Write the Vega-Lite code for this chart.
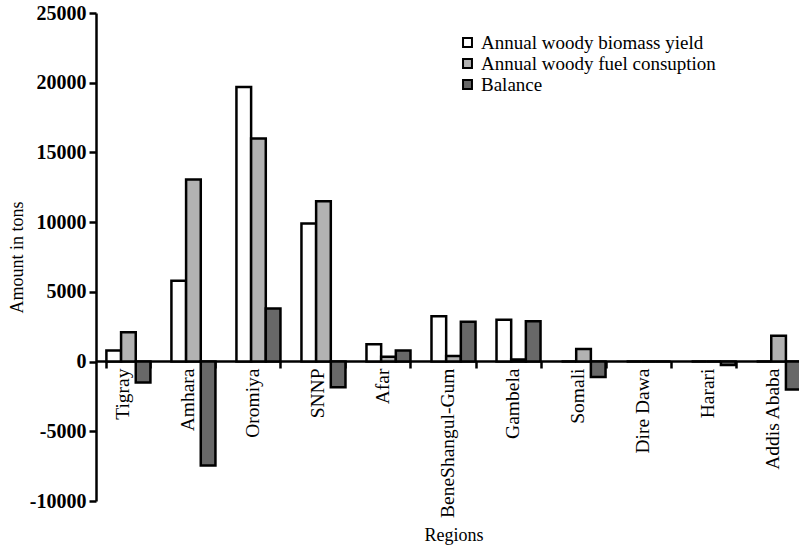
{
  "$schema": "https://vega.github.io/schema/vega-lite/v6.json",
  "autosize": {"type": "none"},
  "padding": {"left": 96, "top": 13, "right": 0, "bottom": 51},
  "width": 703,
  "height": 488,
  "background": "white",
  "config": {
    "font": "Liberation Serif",
    "view": {"stroke": null},
    "axis": {"grid": false, "labelColor": "black", "titleColor": "black", "domainColor": "black", "tickColor": "black"}
  },
  "data": {
    "values": [
      {"region": "Tigray", "series": "Annual woody biomass yield", "value": 800},
      {"region": "Tigray", "series": "Annual woody fuel consuption", "value": 2100},
      {"region": "Tigray", "series": "Balance", "value": -1500},
      {"region": "Amhara", "series": "Annual woody biomass yield", "value": 5800},
      {"region": "Amhara", "series": "Annual woody fuel consuption", "value": 13050},
      {"region": "Amhara", "series": "Balance", "value": -7450},
      {"region": "Oromiya", "series": "Annual woody biomass yield", "value": 19700},
      {"region": "Oromiya", "series": "Annual woody fuel consuption", "value": 16000},
      {"region": "Oromiya", "series": "Balance", "value": 3800},
      {"region": "SNNP", "series": "Annual woody biomass yield", "value": 9900},
      {"region": "SNNP", "series": "Annual woody fuel consuption", "value": 11500},
      {"region": "SNNP", "series": "Balance", "value": -1850},
      {"region": "Afar", "series": "Annual woody biomass yield", "value": 1250},
      {"region": "Afar", "series": "Annual woody fuel consuption", "value": 350},
      {"region": "Afar", "series": "Balance", "value": 800},
      {"region": "BeneShangul-Gum", "series": "Annual woody biomass yield", "value": 3250},
      {"region": "BeneShangul-Gum", "series": "Annual woody fuel consuption", "value": 400},
      {"region": "BeneShangul-Gum", "series": "Balance", "value": 2850},
      {"region": "Gambela", "series": "Annual woody biomass yield", "value": 3000},
      {"region": "Gambela", "series": "Annual woody fuel consuption", "value": 150},
      {"region": "Gambela", "series": "Balance", "value": 2900},
      {"region": "Somali", "series": "Annual woody biomass yield", "value": 0},
      {"region": "Somali", "series": "Annual woody fuel consuption", "value": 900},
      {"region": "Somali", "series": "Balance", "value": -1100},
      {"region": "Dire Dawa", "series": "Annual woody biomass yield", "value": 0},
      {"region": "Dire Dawa", "series": "Annual woody fuel consuption", "value": 0},
      {"region": "Dire Dawa", "series": "Balance", "value": 0},
      {"region": "Harari", "series": "Annual woody biomass yield", "value": 0},
      {"region": "Harari", "series": "Annual woody fuel consuption", "value": 0},
      {"region": "Harari", "series": "Balance", "value": -250},
      {"region": "Addis Ababa", "series": "Annual woody biomass yield", "value": 0},
      {"region": "Addis Ababa", "series": "Annual woody fuel consuption", "value": 1850},
      {"region": "Addis Ababa", "series": "Balance", "value": -2000}
    ]
  },
  "mark": {"type": "bar", "stroke": "black", "strokeWidth": 2.5},
  "encoding": {
    "x": {
      "field": "region",
      "type": "nominal",
      "sort": ["Tigray", "Amhara", "Oromiya", "SNNP", "Afar", "BeneShangul-Gum", "Gambela", "Somali", "Dire Dawa", "Harari", "Addis Ababa"],
      "scale": {"paddingInner": 0.323, "paddingOuter": 0.16, "range": [0, 715]},
      "axis": {
        "title": "Regions",
        "titleFont": "Liberation Serif",
        "titleFontSize": 18,
        "titleFontWeight": "normal",
        "titlePadding": 9,
        "offset": -140,
        "domainWidth": 2.5,
        "tickWidth": 2.5,
        "tickSize": 7,
        "tickBand": "extent",
        "labelAngle": -90,
        "labelAlign": "right",
        "labelBaseline": "middle",
        "labelFont": "Liberation Serif",
        "labelFontSize": 19.5,
        "labelPadding": 0,
        "labelOffset": -6
      }
    },
    "xOffset": {
      "field": "series",
      "type": "nominal",
      "sort": ["Annual woody biomass yield", "Annual woody fuel consuption", "Balance"]
    },
    "y": {
      "field": "value",
      "type": "quantitative",
      "scale": {"domain": [-10000, 25000], "nice": false, "zero": false},
      "axis": {
        "title": "Amount in tons",
        "titleFont": "Liberation Serif",
        "titleFontSize": 18,
        "titleFontWeight": "normal",
        "titlePadding": 3,
        "values": [-10000, -5000, 0, 5000, 10000, 15000, 20000, 25000],
        "labelExpr": "datum.value + ''",
        "labelFont": "Liberation Serif",
        "labelFontSize": 20,
        "labelFontWeight": "bold",
        "labelPadding": 3,
        "domainWidth": 2.5,
        "tickWidth": 2.5,
        "tickSize": 7
      }
    },
    "color": {
      "field": "series",
      "type": "nominal",
      "sort": ["Annual woody biomass yield", "Annual woody fuel consuption", "Balance"],
      "scale": {"domain": ["Annual woody biomass yield", "Annual woody fuel consuption", "Balance"], "range": ["#ffffff", "#b2b2b2", "#686868"]},
      "legend": {
        "title": null,
        "orient": "none",
        "legendX": 362,
        "legendY": 20,
        "symbolType": "square",
        "symbolSize": 80,
        "symbolStrokeColor": "black",
        "symbolStrokeWidth": 2,
        "symbolOpacity": 1,
        "labelFont": "Liberation Serif",
        "labelFontSize": 19,
        "labelColor": "black",
        "labelLimit": 0,
        "labelOffset": 4,
        "rowPadding": 1
      }
    }
  }
}
